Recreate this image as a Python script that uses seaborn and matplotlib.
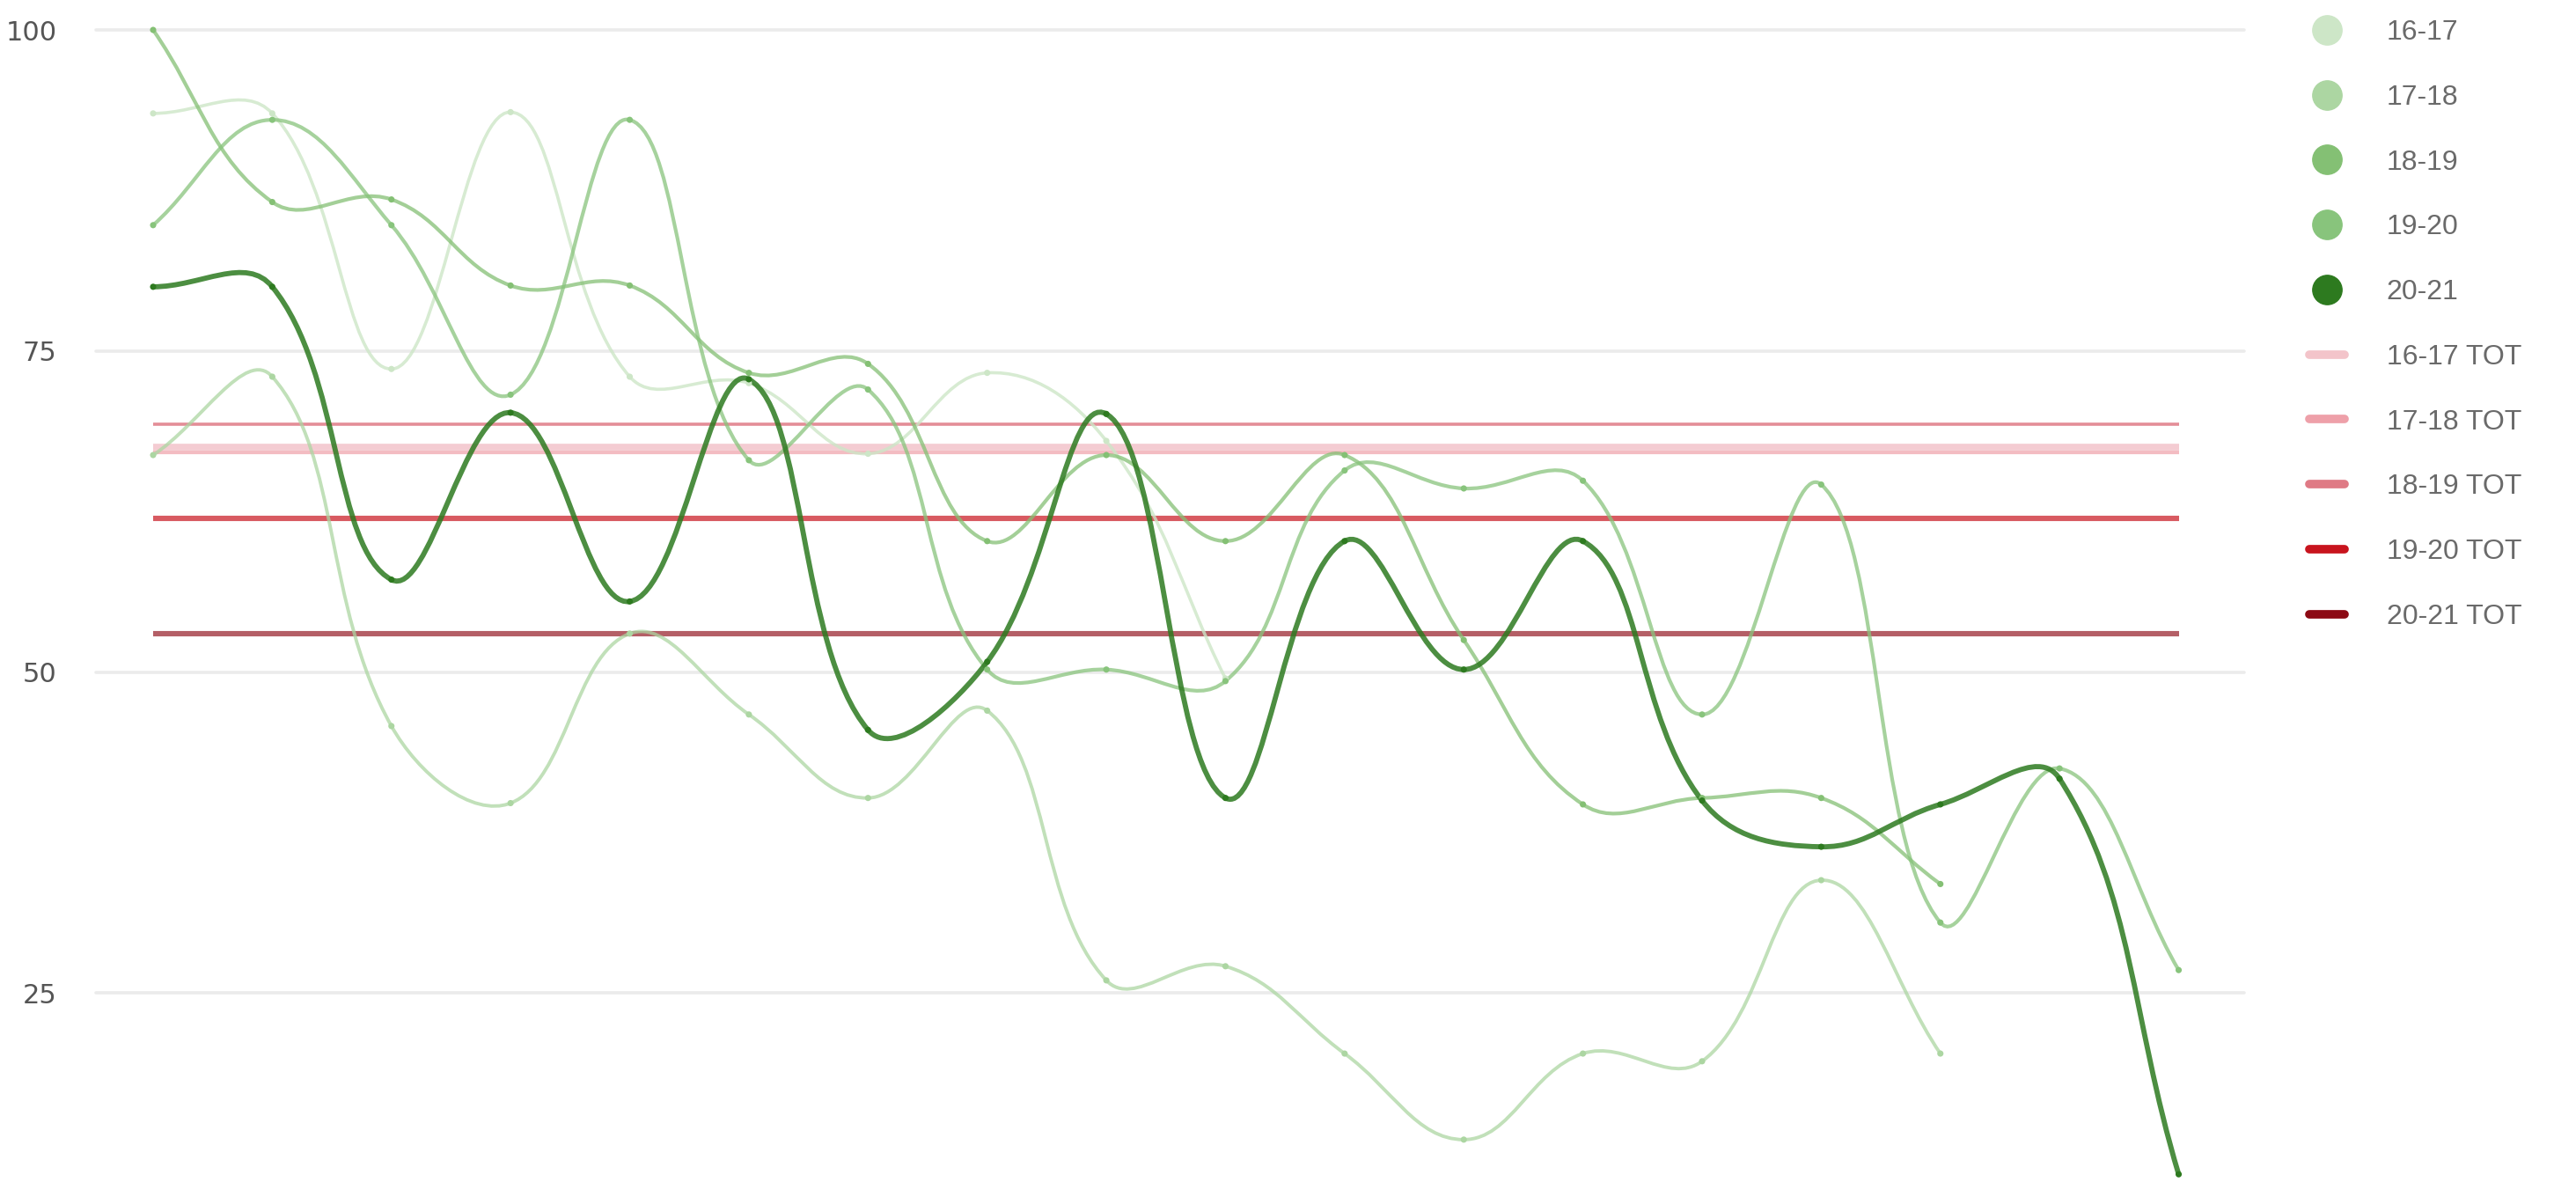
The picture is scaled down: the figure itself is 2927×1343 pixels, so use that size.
import numpy as np
import pandas as pd
import matplotlib
matplotlib.use("Agg")
import matplotlib.pyplot as plt
import seaborn as sns
from matplotlib.path import Path
from matplotlib.patches import PathPatch
from matplotlib.lines import Line2D

# values (x = period index, no labels on the x axis)
seasons = ["16-17", "17-18", "18-19", "19-20", "20-21"]
vals_16_17 = [93.5, 93.5, 73.6, 93.6, 73.0, 72.5, 67.0, 73.3, 68.0, 49.5]
vals_17_18 = [66.9, 73.0, 45.8, 39.8, 53.0, 46.7, 40.2, 47.0, 26.0, 27.1,
              20.3, 13.6, 20.3, 19.7, 33.8, 20.3]
vals_18_19 = [100.0, 86.6, 86.8, 80.1, 80.1, 73.3, 74.0, 60.2, 66.9, 60.2,
              66.9, 52.5, 39.7, 40.2, 40.2, 33.5]
vals_19_20 = [84.8, 93.0, 84.8, 71.6, 93.0, 66.5, 72.0, 50.2, 50.2, 49.3,
              65.7, 64.3, 64.9, 46.7, 64.6, 30.5, 42.5, 26.8]
vals_20_21 = [80.0, 80.0, 57.2, 70.2, 55.5, 72.8, 45.5, 50.8, 70.1, 40.2,
              60.2, 50.2, 60.2, 40.0, 36.4, 39.7, 41.7, 10.9]
tot_labels = [s + " TOT" for s in seasons]
tot_values = [67.5, 67.1, 69.3, 62.0, 53.0]
n_periods = 18
y_ticks = [25, 50, 75, 100]

green_cols = ["#cde6c7", "#acd6a2", "#84c074", "#88c47c", "#2d7a1f"]
line_alpha = [0.8, 0.75, 0.75, 0.75, 0.85]
line_width = [2.6, 2.8, 3.0, 3.0, 4.2]
red_cols = ["#f3c4ca", "#eea0a9", "#df7a85", "#c8141e", "#8c0a14"]
red_alpha = [0.85, 0.7, 0.85, 0.7, 0.65]
red_width = [5.5, 3.0, 2.6, 4.4, 4.4]

series = [vals_16_17, vals_17_18, vals_18_19, vals_19_20, vals_20_21]
df = pd.concat([pd.DataFrame({"period": np.arange(len(v)), "value": v, "season": s})
                for s, v in zip(seasons, series)], ignore_index=True)


def smooth_path(ax, xs, ys, tension=0.4):
    # bezier control points worked out in screen space (chart.js style spline)
    pts = ax.transData.transform(np.column_stack([xs, ys]))
    n = len(pts)
    cp_prev, cp_next = [], []
    for i in range(n):
        p0, p1, p2 = pts[max(i - 1, 0)], pts[i], pts[min(i + 1, n - 1)]
        d01 = np.hypot(*(p1 - p0))
        d12 = np.hypot(*(p2 - p1))
        tot = d01 + d12
        fa = tension * d01 / tot if tot else 0
        fb = tension * d12 / tot if tot else 0
        cp_prev.append(p1 - fa * (p2 - p0))
        cp_next.append(p1 + fb * (p2 - p0))
    verts, codes = [pts[0]], [Path.MOVETO]
    for i in range(n - 1):
        verts += [cp_next[i], cp_prev[i + 1], pts[i + 1]]
        codes += [Path.CURVE4] * 3
    verts = ax.transData.inverted().transform(np.array(verts))
    return Path(verts, codes)


sns.set_theme(style="white")
plt.rcParams["font.family"] = ["Liberation Sans", "DejaVu Sans"]

fig = plt.figure(figsize=(29.27, 13.43), dpi=100)
ax = fig.add_axes([109 / 2927, 0.0, (2550 - 109) / 2927, 1 - 34 / 1343])
ax.set_xlim(-0.48, n_periods - 1 + 0.55)
ax.set_ylim(10.3, 100)

for v in y_ticks:
    ax.axhline(v, color="#ebebeb", lw=2.6, zorder=0, clip_on=False)

for lab, val, c, a, w in zip(tot_labels, tot_values, red_cols, red_alpha, red_width):
    ax.hlines(val, 0, n_periods - 1, colors=c, alpha=a, lw=w, zorder=1)

for s, vals, c, a, w in zip(seasons, series, green_cols, line_alpha, line_width):
    p = smooth_path(ax, np.arange(len(vals)), vals)
    ax.add_patch(PathPatch(p, fill=False, edgecolor=c, alpha=a, lw=w,
                           zorder=2, clip_on=False, capstyle="round"))

sns.scatterplot(data=df, x="period", y="value", hue="season", palette=green_cols,
                s=26, linewidth=0, legend=False, ax=ax, zorder=3, clip_on=False)

ax.set_yticks(y_ticks)
ax.set_yticklabels([str(t) for t in y_ticks], fontsize=22, color="#555555",
                   family="DejaVu Sans")
ax.tick_params(axis="y", length=0, pad=32)
ax.set_xticks([])
ax.set_xlabel("")
ax.set_ylabel("")
for sp in ax.spines.values():
    sp.set_visible(False)

handles = [Line2D([], [], marker="o", linestyle="None", markersize=24,
                  markerfacecolor=c, markeredgecolor=c) for c in green_cols]
handles += [Line2D([], [], color=c, lw=7) for c in red_cols]
fig.legend(handles, seasons + tot_labels, loc="upper left",
           bbox_to_anchor=(2624 / 2927, 1 - 22 / 1343), frameon=False,
           fontsize=23, labelcolor="#6a6a6a", handlelength=1.25,
           handletextpad=1.5, labelspacing=1.37, borderpad=0, borderaxespad=0)

fig.savefig("out.png", dpi=100)
